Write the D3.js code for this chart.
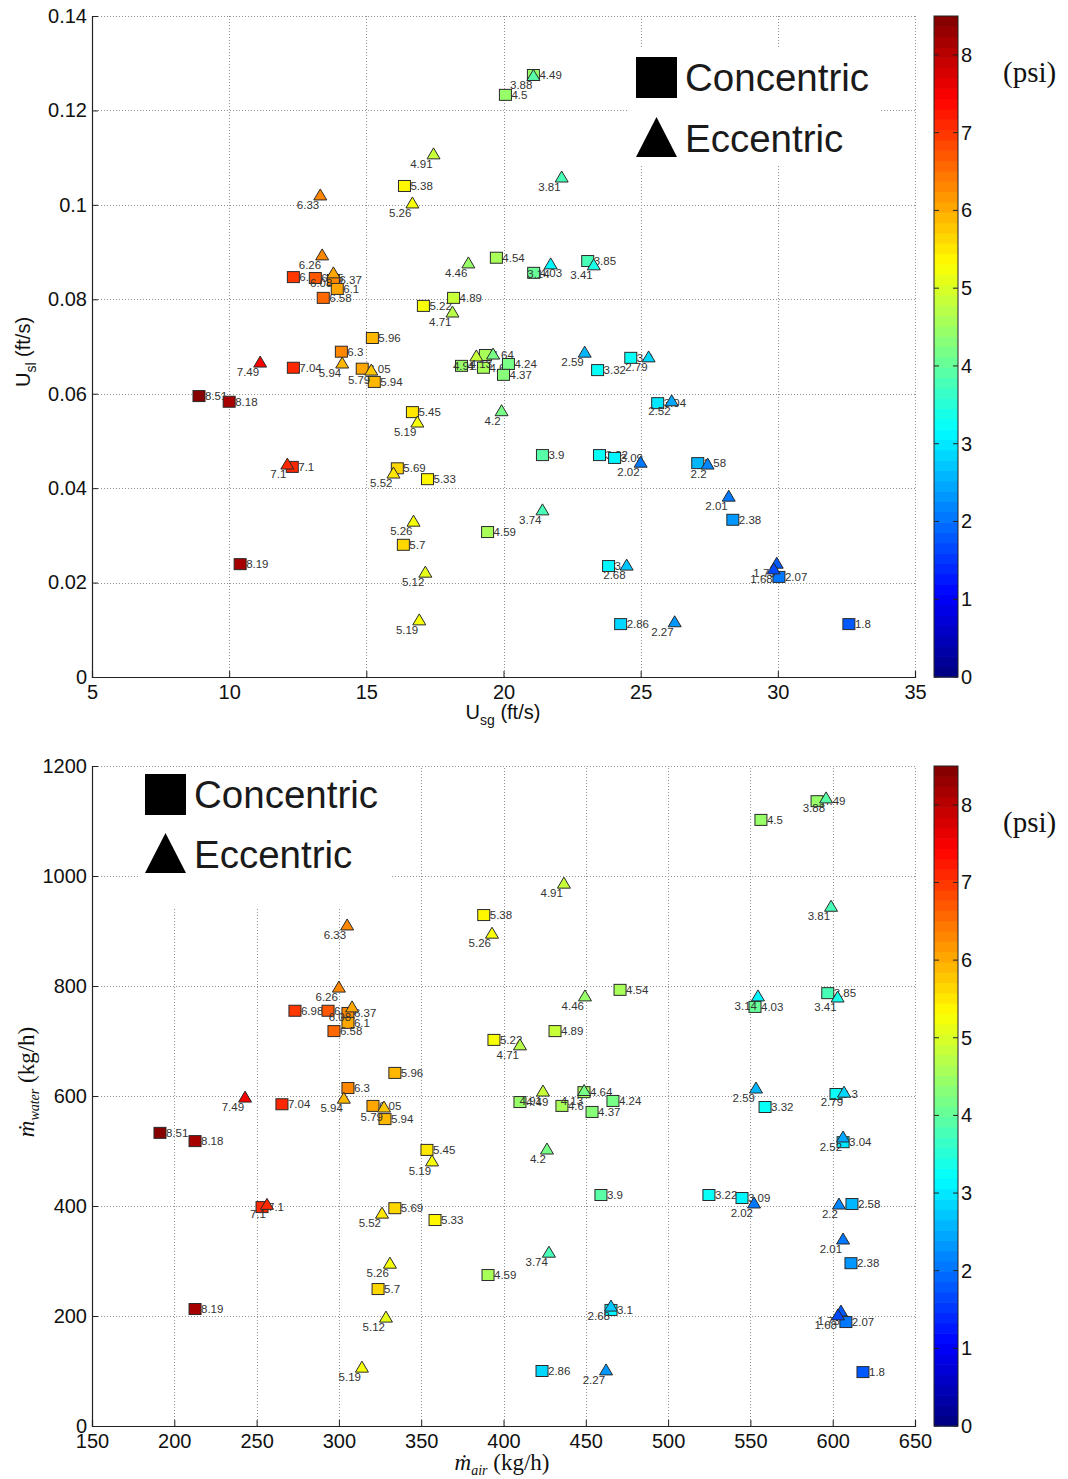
<!DOCTYPE html>
<html><head><meta charset="utf-8">
<script src="https://cdn.jsdelivr.net/npm/d3@7"></script>
<style>body{margin:0;background:#fff}</style>
</head><body>
<svg id="c" width="1068" height="1479" xmlns="http://www.w3.org/2000/svg"></svg>
<script>
// ---------- DATA ----------
// Concentric (squares)
const concLabels = ["4.49","4.5","5.38","4.54","4.03","3.85","6.98","6.65","6.37","6.1","6.58","5.22","4.89","5.96","6.3","7.04","6.05","5.94","8.51","8.18","5.45","3.9","7.1","5.69","5.33","4.59","5.7","8.19","4.49","4.64","4.6","4.24","4.37","3.32","3.3","3.04","3.22","3.09","2.58","2.38","3.1","2.07","2.86","1.8"];
const concUsg = [21.09,20.07,16.39,19.74,21.1,23.07,12.34,13.14,13.8,13.94,13.43,17.08,18.18,15.22,14.09,12.34,14.85,15.29,8.9,10.0,16.68,21.42,12.3,16.13,17.23,19.42,16.35,10.4,18.47,19.34,19.27,20.18,20.0,23.43,24.64,25.62,23.5,24.05,27.08,28.36,23.83,30.04,24.27,32.59];
const concUsl = [0.1275,0.1233,0.1040,0.0888,0.0856,0.0881,0.0847,0.0845,0.0841,0.0822,0.0803,0.0786,0.0803,0.0718,0.0689,0.0655,0.0653,0.0625,0.0595,0.0583,0.0561,0.0470,0.0445,0.0442,0.0419,0.0307,0.0280,0.0239,0.0659,0.0682,0.0655,0.0663,0.0640,0.0650,0.0676,0.0580,0.0470,0.0464,0.0453,0.0333,0.0235,0.0212,0.0112,0.0112];
const concMair = [590.5,556.4,388,470.8,552.8,597,273.3,293.4,305.5,305.5,297,394.2,431.3,334,305.5,265.4,320.7,328,191.3,212.6,353.5,459.2,253.3,334,358.4,390.6,323.8,212.6,410,448.9,435.5,466.5,453.8,558.9,602,606.3,524.8,544.9,611.7,611.1,465.3,608,423.4,618.4];
const concMwater = [1136,1102,929,793,762,787,755,755,751,733,718,702,718,642,614.5,585,582,558,533,518,502,420,398,396,374.5,274.5,249,212.7,589,607,582,591,571,580,603.6,516,420,414.5,403.6,296,211,189,100,98];

// Eccentric (triangles)
const eccLabels = ["3.88","4.91","3.81","5.26","6.33","6.26","4.46","3.14","3.41","6.08","4.71","5.94","7.49","5.79","5.19","4.2","7.1","5.52","5.26","3.74","5.12","5.19","4.91","4.13","2.59","2.79","2.52","2.02","2.2","2.01","2.68","1.73","1.68","2.27"];
const eccUsg = [21.09,17.45,22.12,16.68,13.32,13.39,18.72,21.72,23.29,13.8,18.14,14.12,11.13,15.18,16.86,19.93,12.12,15.99,16.72,21.42,17.15,16.93,19.01,19.62,22.96,25.29,26.13,25.0,27.44,28.21,24.49,29.96,29.85,26.24];
const eccUsl = [0.1274,0.1108,0.1059,0.1004,0.1021,0.0894,0.0877,0.0875,0.0873,0.0856,0.0773,0.0665,0.0667,0.0650,0.0540,0.0564,0.0451,0.0432,0.0330,0.0354,0.0222,0.0121,0.0680,0.0684,0.0688,0.0678,0.0585,0.0455,0.0451,0.0383,0.0237,0.0241,0.0229,0.0117];
const eccMair = [596,436.7,599,393,305,300,449.5,554.6,603,308,410,303,243,327.4,356.6,426.4,256.3,326.2,331,427.6,328.6,314,424,449,553.4,606.9,606.3,552.2,603.8,606.3,465.3,605,603.2,462.3];
const eccMwater = [1142,987,945,896,911,798,782,782,780,762,693,596,598,580,482,503.6,403,387,296,316,198,107,609,610,614.5,607,525.5,405.5,403.6,340,218,209,202,102];

// Ticks
const topXTicks = [5,10,15,20,25,30,35];
const topYTicks = [0,0.02,0.04,0.06,0.08,0.1,0.12,0.14];
const botXTicks = [150,200,250,300,350,400,450,500,550,600,650];
const botYTicks = [0,200,400,600,800,1000,1200];
const cbTicks = [0,1,2,3,4,5,6,7,8];
const cbRange = [0,8.5];

// ---------- HELPERS ----------
const svg = d3.select("#c");
const NC = 64;
function jetLevel(i){ // MATLAB-like jet, discrete 64
  const t = (i + 0.5) / NC;
  const cl = v => Math.max(0, Math.min(1, v));
  const r = cl(1.5 - Math.abs(4*t - 3));
  const g = cl(1.5 - Math.abs(4*t - 2));
  const b = cl(1.5 - Math.abs(4*t - 1));
  return d3.rgb(r*255, g*255, b*255).formatHex();
}
function jet(v){
  let i = Math.floor((v - cbRange[0]) / (cbRange[1]-cbRange[0]) * NC);
  i = Math.max(0, Math.min(NC-1, i));
  return jetLevel(i);
}
const tickFont = "Liberation Sans, Arial, Helvetica, sans-serif";

function panel(opt){
  const g = svg.append("g");
  const x = d3.scaleLinear().domain(opt.xd).range([92, 915]);
  const y = d3.scaleLinear().domain(opt.yd).range([opt.y0, opt.y1]);

  // grid
  const grid = g.append("g").attr("stroke","#909090").attr("stroke-width",1).attr("stroke-dasharray","1,2");
  grid.selectAll("line.v").data(opt.xt).join("line")
    .attr("x1", d => Math.round(x(d))+0.5).attr("x2", d => Math.round(x(d))+0.5)
    .attr("y1", opt.y0).attr("y2", opt.y1);
  grid.selectAll("line.h").data(opt.yt).join("line")
    .attr("y1", d => Math.round(y(d))+0.5).attr("y2", d => Math.round(y(d))+0.5)
    .attr("x1", 92).attr("x2", 915);

  // legend background (covers grid)
  g.append("rect").attr("x", opt.leg.bx).attr("y", opt.leg.by).attr("width", opt.leg.bw).attr("height", opt.leg.bh).attr("fill","#fff");

  // axes
  const ax = g.append("g").attr("transform",`translate(0,${opt.y0})`)
    .call(d3.axisBottom(x).tickValues(opt.xt).tickSize(-6).tickPadding(5).tickFormat(opt.xf));
  const ay = g.append("g").attr("transform","translate(92,0)")
    .call(d3.axisLeft(y).tickValues(opt.yt).tickSize(-6).tickPadding(5).tickFormat(opt.yf));
  [ax, ay].forEach(a => {
    a.select(".domain").attr("stroke","#222").attr("stroke-width",1.2);
    a.selectAll(".tick line").attr("stroke","#222");
    a.selectAll(".tick text").attr("font-family", tickFont).attr("font-size", 20).attr("fill","#111");
  });
  ax.selectAll(".tick text").attr("dy","0.85em");

  // markers & labels
  const pts = g.append("g");
  opt.conc.forEach(p => {
    const cx = x(p.x), cy = y(p.y);
    pts.append("rect").attr("x", cx-6).attr("y", cy-5.5).attr("width",12).attr("height",11)
      .attr("fill", jet(+p.l)).attr("stroke","#2a2a2a").attr("stroke-width",1);
    pts.append("text").attr("x", cx+6).attr("y", cy+4).text(p.l)
      .attr("font-family", tickFont).attr("font-size", 11.5).attr("fill","#333");
  });
  opt.ecc.forEach(p => {
    const cx = x(p.x), cy = y(p.y);
    pts.append("path").attr("d", `M${cx-6.5},${cy+5}L${cx+6.5},${cy+5}L${cx},${cy-6}Z`)
      .attr("fill", jet(+p.l)).attr("stroke","#2a2a2a").attr("stroke-width",1);
    pts.append("text").attr("x", cx-1).attr("y", cy+14).attr("text-anchor","end").text(p.l)
      .attr("font-family", tickFont).attr("font-size", 11.5).attr("fill","#333");
  });

  // legend
  const L = opt.leg;
  g.append("rect").attr("x", L.mx).attr("y", L.sy).attr("width",41).attr("height",41).attr("fill","#000");
  g.append("path").attr("d", `M${L.mx},${L.ty+40}L${L.mx+41},${L.ty+40}L${L.mx+20.5},${L.ty}Z`).attr("fill","#000");
  g.append("text").attr("x", L.mx+49).attr("y", L.sy+34).text("Concentric")
    .attr("font-family", tickFont).attr("font-size", 38.5).attr("fill","#1a1a1a");
  g.append("text").attr("x", L.mx+49).attr("y", L.ty+35).text("Eccentric")
    .attr("font-family", tickFont).attr("font-size", 38.5).attr("fill","#1a1a1a");

  // colorbar
  const cy = d3.scaleLinear().domain(cbRange).range([opt.y0, opt.y1]);
  const cb = g.append("g");
  const levels = d3.range(NC);
  cb.selectAll("rect.lv").data(levels).join("rect")
    .attr("x", 934).attr("width", 24)
    .attr("y", i => cy(cbRange[0] + (i+1)*(cbRange[1]-cbRange[0])/NC))
    .attr("height", i => cy(cbRange[0] + i*(cbRange[1]-cbRange[0])/NC) - cy(cbRange[0] + (i+1)*(cbRange[1]-cbRange[0])/NC) + 0.6)
    .attr("fill", i => jetLevel(i));
  cb.append("rect").attr("x",934).attr("y",opt.y1).attr("width",24).attr("height",opt.y0-opt.y1)
    .attr("fill","none").attr("stroke","#222").attr("stroke-width",1);
  cb.selectAll("line.tk").data(cbTicks).join("line")
    .attr("x1", 953).attr("x2", 958).attr("y1", d => cy(d)).attr("y2", d => cy(d)).attr("stroke","#222");
  cb.selectAll("line.tk2").data(cbTicks).join("line")
    .attr("x1", 934).attr("x2", 939).attr("y1", d => cy(d)).attr("y2", d => cy(d)).attr("stroke","#222");
  cb.selectAll("text.tl").data(cbTicks).join("text")
    .attr("x", 961).attr("y", d => cy(d)+7).text(d => d)
    .attr("font-family", tickFont).attr("font-size", 20).attr("fill","#111");
  g.append("text").attr("x",1003).attr("y", opt.y1+66).text("(psi)")
    .attr("font-family","Liberation Serif, Times New Roman, serif").attr("font-size",29).attr("fill","#111");

  return {x, y, g};
}

const conc = (xs, ys) => concLabels.map((l,i) => ({l, x: xs[i], y: ys[i]}));
const ecc = (xs, ys) => eccLabels.map((l,i) => ({l, x: xs[i], y: ys[i]}));

// top panel
const P1 = panel({
  xd:[5,35], yd:[0,0.14], y0:677, y1:16, xt: topXTicks, yt: topYTicks,
  xf: d => d, yf: d => d === 0 ? "0" : String(+d.toFixed(2)),
  conc: conc(concUsg, concUsl), ecc: ecc(eccUsg, eccUsl),
  leg: {bx:628, by:48, bw:252, bh:117, mx:636, sy:57, ty:117}
});
// bottom panel
const P2 = panel({
  xd:[150,650], yd:[0,1200], y0:1426, y1:766, xt: botXTicks, yt: botYTicks,
  xf: d => d, yf: d => d,
  conc: conc(concMair, concMwater), ecc: ecc(eccMair, eccMwater),
  leg: {bx:140, by:767, bw:252, bh:141, mx:145, sy:774, ty:833}
});

// axis titles
const t1 = svg.append("text").attr("x", 503).attr("y", 719).attr("text-anchor","middle")
  .attr("font-family", tickFont).attr("font-size", 20).attr("fill","#111");
t1.append("tspan").text("U");
t1.append("tspan").attr("font-size",14).attr("dy",6).text("sg");
t1.append("tspan").attr("dy",-6).text(" (ft/s)");

const t2 = svg.append("text").attr("transform","translate(30,352) rotate(-90)").attr("text-anchor","middle")
  .attr("font-family", tickFont).attr("font-size", 20).attr("fill","#111");
t2.append("tspan").text("U");
t2.append("tspan").attr("font-size",14).attr("dy",6).text("sl");
t2.append("tspan").attr("dy",-6).text(" (ft/s)");

const serif = "Liberation Serif, Times New Roman, DejaVu Serif, serif";
const t3 = svg.append("text").attr("x", 502).attr("y", 1470).attr("text-anchor","middle")
  .attr("font-family", serif).attr("font-size", 23).attr("fill","#111");
t3.append("tspan").attr("font-style","italic").text("ṁ");
t3.append("tspan").attr("font-style","italic").attr("font-size",14).attr("dy",5).text("air");
t3.append("tspan").attr("dy",-5).text(" (kg/h)");

const t4 = svg.append("text").attr("transform","translate(34,1082) rotate(-90)").attr("text-anchor","middle")
  .attr("font-family", serif).attr("font-size", 23).attr("fill","#111");
t4.append("tspan").attr("font-style","italic").text("ṁ");
t4.append("tspan").attr("font-style","italic").attr("font-size",14).attr("dy",5).text("water");
t4.append("tspan").attr("dy",-5).text(" (kg/h)");
</script>
</body></html>
